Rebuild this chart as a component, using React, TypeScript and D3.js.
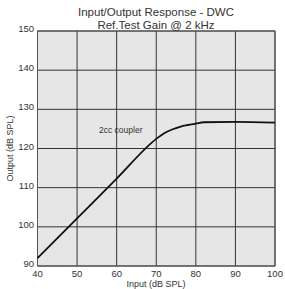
import React from "react";
import * as d3 from "d3";

const inputLevels = [40, 50, 60, 70, 72, 74, 76, 78, 80, 82, 90, 100];
const outputLevels = [92, 102.15, 112.3, 122.45, 123.9, 124.85, 125.55, 126.0, 126.35, 126.7, 126.8, 126.6];
const xTicks = [40, 50, 60, 70, 80, 90, 100];
const yTicks = [90, 100, 110, 120, 130, 140, 150];
const titleLines = ["Input/Output Response - DWC", "Ref.Test Gain @ 2 kHz"];

export default function App() {
  const W = 285, H = 289;
  const left = 37.5, right = 275, top = 31, bottom = 266;
  const x = d3.scaleLinear().domain([40, 100]).range([left, right]);
  const y = d3.scaleLinear().domain([90, 150]).range([bottom, top]);
  const pts = inputLevels.map((v, i) => [v, outputLevels[i]] as [number, number]);
  const line = d3.line<[number, number]>().x(d => x(d[0])).y(d => y(d[1])).curve(d3.curveMonotoneX);
  const font = "Liberation Sans, Arial, sans-serif";
  return (
    <svg width={W} height={H} style={{ position: "absolute", left: 0, top: 0, background: "#fff" }} fontFamily={font}>
      <rect x={left} y={top} width={right - left} height={bottom - top} fill="#e6e6e6" />
      {xTicks.map(t => (
        <line key={"gx" + t} x1={x(t)} x2={x(t)} y1={top} y2={bottom} stroke="#333" strokeWidth={1} />
      ))}
      {yTicks.map(t => (
        <line key={"gy" + t} x1={left} x2={right} y1={y(t)} y2={y(t)} stroke="#333" strokeWidth={1} />
      ))}
      <rect x={left} y={top} width={right - left} height={bottom - top} fill="none" stroke="#555" strokeWidth={1} />
      <path d={line(pts) || ""} fill="none" stroke="#111" strokeWidth={1.8} />
      <text x={99} y={133} fontSize={8.5} fill="#333">2cc coupler</text>
      {xTicks.map(t => (
        <text key={"tx" + t} x={x(t)} y={277} fontSize={9.5} fill="#333" textAnchor="middle">{t}</text>
      ))}
      {yTicks.map(t => (
        <text key={"ty" + t} x={34} y={y(t) + 1} fontSize={9.5} fill="#333" textAnchor="end">{t}</text>
      ))}
      <text x={156} y={287} fontSize={9} fill="#333" textAnchor="middle">Input (dB SPL)</text>
      <text transform={`translate(13,${(top + bottom) / 2}) rotate(-90)`} fontSize={9} fill="#333" textAnchor="middle">Output (dB SPL)</text>
      {titleLines.map((s, i) => (
        <text key={s} x={156} y={16 + i * 13} fontSize={11.5} fill="#333" textAnchor="middle">{s}</text>
      ))}
    </svg>
  );
}
